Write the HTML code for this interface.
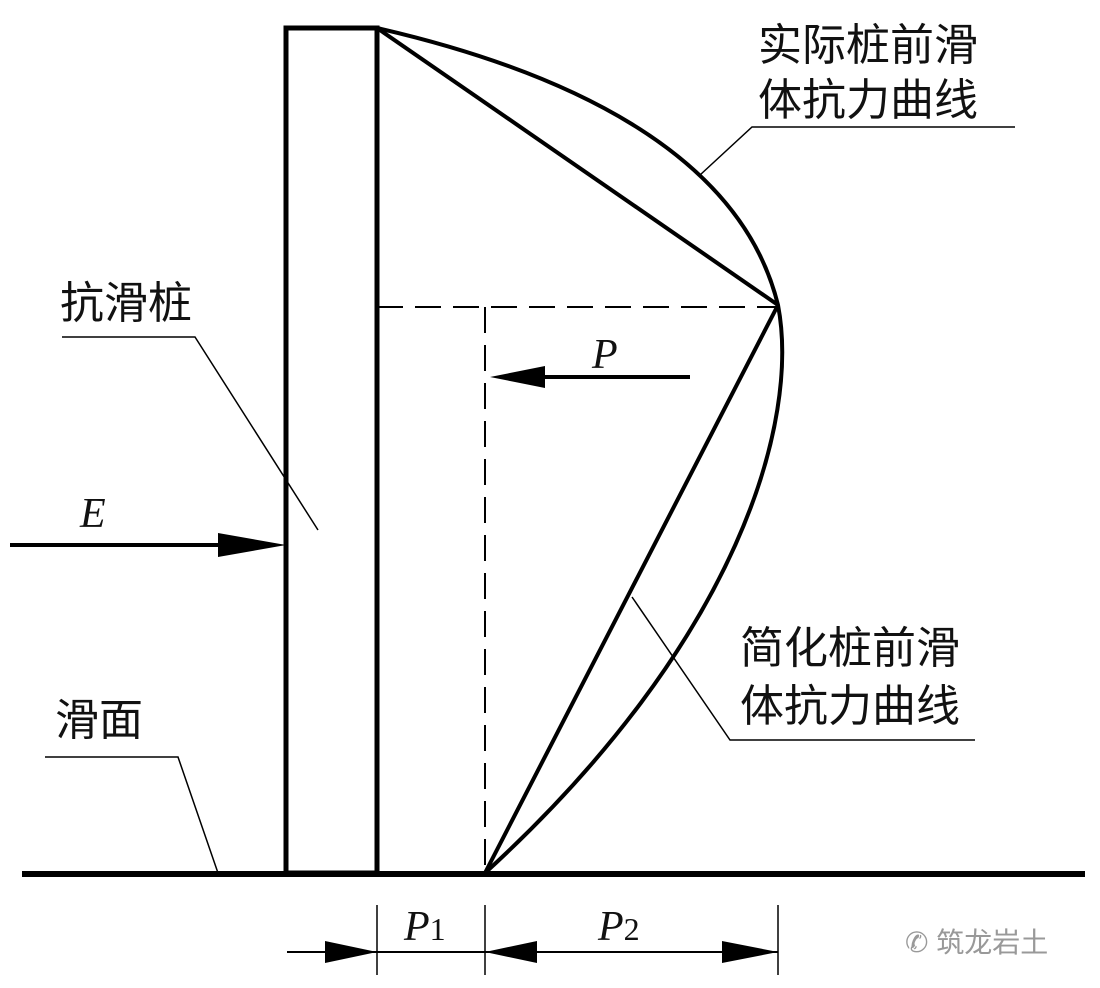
<!DOCTYPE html>
<html><head><meta charset="utf-8"><style>
html,body{margin:0;padding:0;background:#fff;}
svg{display:block;}
.cn{font-family:"Liberation Sans","Noto Sans CJK SC",sans-serif;font-size:44px;fill:#111;}
.it{font-family:"Liberation Serif",serif;font-style:italic;font-size:42px;fill:#111;}
</style></head><body>
<svg width="1100" height="988" viewBox="0 0 1100 988" xmlns="http://www.w3.org/2000/svg">
<rect width="1100" height="988" fill="#fff"/>
<g stroke="#000" fill="none">
<rect x="286" y="28" width="91" height="845" stroke-width="5"/>
<line x1="22" y1="874" x2="1085" y2="874" stroke-width="6"/>
<path d="M377,28 C560,70 740,150 778,305 C800,420 740,640 485,873" stroke-width="4"/>
<line x1="377" y1="28" x2="778" y2="305" stroke-width="4"/>
<line x1="778" y1="305" x2="485" y2="873" stroke-width="4"/>
<line x1="377" y1="307" x2="778" y2="307" stroke-width="2" stroke-dasharray="26,12"/>
<line x1="485" y1="307" x2="485" y2="873" stroke-width="2" stroke-dasharray="26,12"/>
<line x1="540" y1="377" x2="690" y2="377" stroke-width="4"/>
<line x1="10" y1="545" x2="230" y2="545" stroke-width="4"/>
<polyline points="62,337 195,337 318,530" stroke-width="1.5"/>
<polyline points="45,757 178,757 218,873" stroke-width="1.5"/>
<polyline points="1015,127 752,127 700,175" stroke-width="1.5"/>
<polyline points="975,740 730,740 632,597" stroke-width="1.5"/>
<line x1="377" y1="905" x2="377" y2="975" stroke-width="1.5"/>
<line x1="485" y1="905" x2="485" y2="975" stroke-width="1.5"/>
<line x1="778" y1="905" x2="778" y2="975" stroke-width="1.5"/>
<line x1="287" y1="952" x2="778" y2="952" stroke-width="2"/>
</g>
<g fill="#000">
<polygon points="490,377 545,366 545,388"/>
<polygon points="286,545 218,533 218,557"/>
<polygon points="377,952 325,941 325,963"/>
<polygon points="485,952 537,941 537,963"/>
<polygon points="778,952 722,941 722,963"/>
</g>
<text class="cn" x="758" y="60">实际桩前滑</text>
<text class="cn" x="758" y="115">体抗力曲线</text>
<text class="cn" x="60" y="318">抗滑桩</text>
<text class="cn" x="55" y="735">滑面</text>
<text class="cn" x="740" y="663">简化桩前滑</text>
<text class="cn" x="740" y="721">体抗力曲线</text>
<text class="it" x="80" y="527">E</text>
<text class="it" x="592" y="368">P</text>
<text class="it" x="404" y="940">P<tspan font-size="32" font-style="normal">1</tspan></text>
<text class="it" x="598" y="940">P<tspan font-size="32" font-style="normal">2</tspan></text>
<text x="905" y="952" font-family="Liberation Sans,'Noto Sans CJK SC',sans-serif" font-size="28" fill="#999">✆ 筑龙岩土</text>
</svg>
</body></html>
